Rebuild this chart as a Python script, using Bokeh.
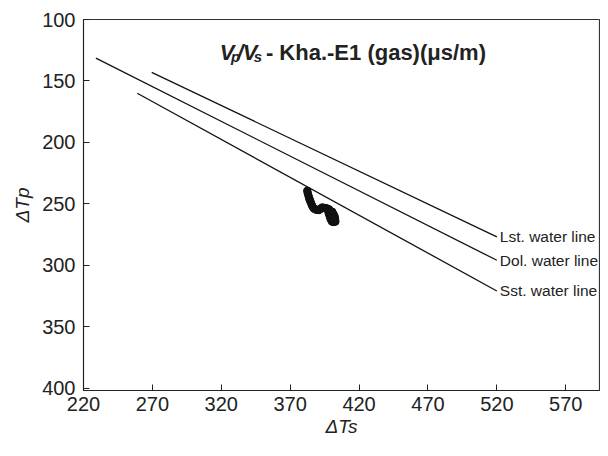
from bokeh.plotting import figure
from bokeh.models import Range1d, FixedTicker, Label, ColumnDataSource
from bokeh.core.properties import value
from bokeh.embed import file_html
from bokeh.resources import INLINE

# ---- data ----
line_names = ["Lst. water line", "Dol. water line", "Sst. water line"]
line_x0 = [269.5, 229.0, 259.0]
line_y0 = [143.0, 131.5, 160.0]
line_x1 = [520.0, 520.0, 520.0]
line_y1 = [277.0, 296.0, 321.0]

well_dts = [382.4, 382.8, 383.3, 383.8, 384.3, 384.8, 385.5, 386.2, 387.2, 388.2,
            389.5, 390.8, 392.0, 393.2, 394.5, 395.8, 396.8, 397.5, 398.0, 398.6,
            399.2, 399.8, 400.4, 401.2, 402.0, 402.8, 402.6, 402.3, 401.5, 400.5,
            399.5, 400.8, 401.8, 399.0, 398.2]
well_dtp = [239.5, 241.5, 243.5, 245.5, 247.0, 248.4, 250.5, 252.2, 253.8, 254.5,
            255.0, 255.1, 254.2, 253.0, 253.3, 253.6, 253.8, 255.5, 257.8, 259.8,
            261.9, 263.2, 264.5, 264.8, 264.6, 264.5, 262.5, 260.5, 258.5, 256.5,
            258.0, 261.0, 262.5, 256.0, 254.5]

x_ticks = [220, 270, 320, 370, 420, 470, 520, 570]
y_ticks = [100, 150, 200, 250, 300, 350, 400]

FONT = "Liberation Sans"
TXT = "#222222"

p = figure(width=600, height=440,
           x_range=Range1d(220, 594.5), y_range=Range1d(402, 100),
           output_backend="svg", toolbar_location=None,
           min_border_left=83, min_border_right=1,
           min_border_top=19, min_border_bottom=50)

p.grid.visible = False
p.outline_line_color = "#333333"
p.outline_line_width = 1.2

for ax in (p.xaxis[0], p.yaxis[0]):
    ax.major_tick_in = 6
    ax.major_tick_out = 0
    ax.minor_tick_line_color = None
    ax.axis_line_color = "#222222"
    ax.major_tick_line_color = "#222222"
    ax.major_label_text_font = FONT
    ax.major_label_text_font_size = "20px"
    ax.major_label_text_color = TXT
    ax.axis_label_text_font = FONT
    ax.axis_label_text_font_size = "19px"
    ax.axis_label_text_font_style = "italic"
    ax.axis_label_text_color = TXT

p.xaxis[0].ticker = FixedTicker(ticks=x_ticks)
p.yaxis[0].ticker = FixedTicker(ticks=y_ticks)
p.xaxis[0].major_label_standoff = 6
p.yaxis[0].major_label_standoff = 8
p.xaxis[0].axis_label = "\u0394Ts"
p.yaxis[0].axis_label = "\u0394Tp"
p.xaxis[0].axis_label_standoff = 2
p.yaxis[0].axis_label_standoff = 6

# water lines
src = ColumnDataSource(dict(x0=line_x0, y0=line_y0, x1=line_x1, y1=line_y1, name=line_names))
p.segment(x0="x0", y0="y0", x1="x1", y1="y1", source=src, line_color="#111111", line_width=1.3)
p.text(x="x1", y="y1", text="name", source=src, x_offset=3,
       text_align="left", text_baseline="middle",
       text_font=value(FONT), text_font_size="15.5px", text_color=TXT)

# well data
p.scatter(well_dts, well_dtp, size=7.5, color="#111111", line_color="#111111")

def lab(x, y, t, size, style="normal"):
    p.add_layout(Label(x=x, y=y, text=t, text_font=FONT, text_font_size=size,
                       text_font_style=style, text_color=TXT,
                       text_align="left", text_baseline="alphabetic"))

# title pieces
lab(318.8, 126.8, "V", "22px", "bold italic")
lab(327.0, 130.0, "p", "15px", "bold italic")
lab(331.6, 126.8, "/", "22px", "bold italic")
lab(335.6, 126.8, "V", "22px", "bold italic")
lab(343.6, 130.0, "s", "15px", "bold italic")
lab(352.4, 126.8, "- Kha.-E1 (gas)(\u03bcs/m)", "22px", "bold")

open("out.html", "w").write(file_html(p, INLINE))
